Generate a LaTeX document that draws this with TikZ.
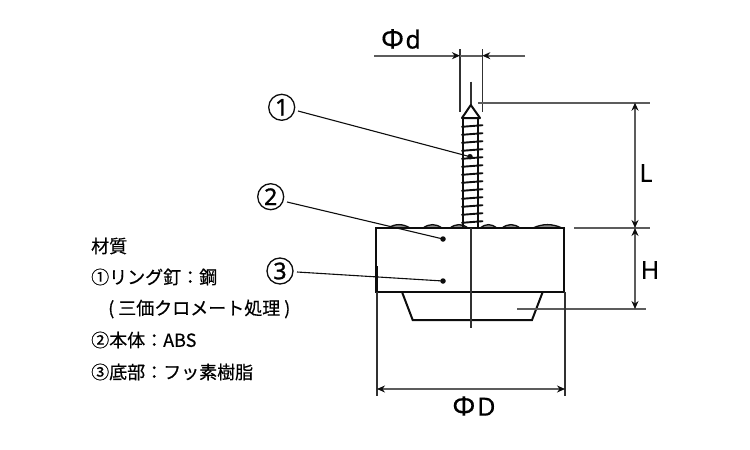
\documentclass[tikz,border=0pt]{standalone}
\usepackage{fontspec}
\setmainfont[FakeBold=0.5]{Noto Sans CJK JP}
\newfontfamily\latinf[FakeBold=0.4]{Noto Sans}
\newfontfamily\digitf[FakeBold=1.2]{Noto Sans}
\usetikzlibrary{arrows.meta}
\definecolor{dimgray}{gray}{0.36}
\definecolor{ink}{gray}{0.05}
\newcommand{\bigphi}{{\fontsize{27}{27}\selectfont Φ}}
\tikzset{
  x=1pt,y=-1pt,
  outline/.style={draw=ink,line width=2pt},
  thin line/.style={draw=ink!85,line width=1.1pt},
  dimline/.style={draw=dimgray,line width=1.6pt},
  dimarrow/.style={dimline,-{Stealth[length=8pt,width=7pt,color=ink]}},
  dimboth/.style={dimline,{Stealth[length=8pt,width=7pt,color=ink]}-{Stealth[length=8pt,width=7pt,color=ink]}},
  leader/.style={draw=ink,line width=1.1pt},
  dotmark/.style={circle,fill=ink,inner sep=0pt,minimum size=5.5pt},
  callout/.style={circle,draw=ink,line width=1.3pt,inner sep=0pt,minimum size=26pt,font=\fontsize{23}{23}\selectfont\digitf},
  dimtext/.style={inner sep=0pt,font=\fontsize{25}{25}\selectfont\latinf},
  material/.style={anchor=west,inner sep=0pt,font=\fontsize{18}{18}\selectfont},
  bump/.style={draw=ink,fill=black!45,line width=1.3pt},
  thread/.style={draw=ink,line width=1.9pt,line cap=round}
}
\begin{document}
\begin{tikzpicture}
\useasboundingbox (0,0) rectangle (750,450);
% bumps on the top of the body
\foreach \a/\b in {388/410,423/442,450/468,480/497,502/520,533/562}{
  \path[bump] (\a,228) .. controls ({\a+(\b-\a)/3},223.5) and ({\b-(\b-\a)/3},223.5) .. (\b,228) -- cycle;
}
% body
\coordinate (bTL) at (376,228);
\coordinate (bTR) at (564,228);
\coordinate (bBR) at (564,292);
\coordinate (bBL) at (376,292);
\draw[outline] (bTL) -- (bTR) -- (bBR) -- (bBL) -- cycle;
\draw[draw=ink,line width=3pt] (376.5,266) -- (376.5,293);
% foot
\coordinate (fTL) at (402,292);
\coordinate (fTR) at (542.7,292);
\coordinate (fBR) at (532,320);
\coordinate (fBL) at (412.7,320);
\draw[outline] (fTL) -- (fBL) -- (fBR) -- (fTR);
% centre lines
\coordinate (c1) at (471,81.5);
\coordinate (c2) at (471,105);
\coordinate (c3) at (471,228);
\coordinate (c4) at (471,328);
\draw[thin line] (c1) -- (c2);
\draw[thin line] (c3) -- (c4);
% screw
\coordinate (tip) at (470.8,105);
\coordinate (shL) at (462,118);
\coordinate (shR) at (480,118);
\draw[outline,line join=round] (shL) -- (tip) -- (shR) -- cycle;
\draw[outline] (463.3,118) -- (463.3,228);
\draw[outline] (478.3,118) -- (478.3,228);
\foreach \y in {126,134,142,150,158,166,174,182,190,198,206,214,222}{
  \draw[thread] (462,\y+0.8) -- (482.5,\y-0.8);
}
% Φd
\coordinate (dL) at (460,49);
\coordinate (dLb) at (460,112);
\coordinate (dR) at (482.3,49);
\coordinate (dRb) at (482.3,112);
\draw[thin line] (dL) -- (dLb);
\draw[thin line] (dR) -- (dRb);
\coordinate (da) at (374,55.7);
\coordinate (db) at (460,55.7);
\coordinate (dc) at (525,55.7);
\coordinate (dd) at (482.3,55.7);
\draw[dimarrow] (da) -- (db);
\draw[dimarrow] (dc) -- (dd);
\draw[dimline] (db) -- (dd);
\node[dimtext] (tPd) at (401,39) {\bigphi\kern1.5pt d};
% L and H
\coordinate (lt0) at (478,102.7);
\coordinate (lt1) at (650,102.7);
\coordinate (lm0) at (574,228);
\coordinate (lm1) at (650,228);
\coordinate (lb0) at (517,309);
\coordinate (lb1) at (646,309);
\coordinate (vt) at (635,102.7);
\coordinate (vm) at (635,228);
\coordinate (vb) at (635,309);
\draw[dimline] (lt0) -- (lt1);
\draw[dimline] (lm0) -- (lm1);
\draw[dimline] (lb0) -- (lb1);
\draw[dimboth] (vt) -- (vm);
\draw[dimboth] (vm) -- (vb);
\node[dimtext] (tL) at (646,173) {L};
\node[dimtext] (tH) at (650,270) {H};
% ΦD
\coordinate (eL0) at (377,292);
\coordinate (eL1) at (377,395.5);
\coordinate (eR0) at (565,292);
\coordinate (eR1) at (565,395.5);
\draw[thin line] (eL0) -- (eL1);
\draw[thin line] (eR0) -- (eR1);
\coordinate (Da) at (377,389);
\coordinate (Db) at (565,389);
\draw[dimboth] (Da) -- (Db);
\node[dimtext] (tPD) at (474,406) {\bigphi\kern2pt D};
% callouts
\node[callout] (n1) at (281.7,107.3) {1};
\node[callout] (n2) at (270.7,196.7) {2};
\node[callout] (n3) at (280,271) {3};
\node[dotmark] (p1) at (470,156.7) {};
\node[dotmark] (p2) at (443,239) {};
\node[dotmark] (p3) at (443,281) {};
\coordinate (s1) at (298,111);
\coordinate (s2) at (287,202);
\coordinate (s3) at (297,272);
\draw[leader] (s1) -- (p1.center);
\draw[leader] (s2) -- (p2.center);
\draw[leader] (s3) -- (p3.center);
% materials
\node[material] (m0) at (91,246) {材質};
\node[material] (m1) at (91,277) {①リング釘：鋼};
\node[material] (m2) at (108,309) {(\kern4pt 三価クロメート処理\kern4pt )};
\node[material] (m3) at (91,340) {②本体：ABS};
\node[material] (m4) at (91,372) {③底部：フッ素樹脂};
\end{tikzpicture}
\end{document}
